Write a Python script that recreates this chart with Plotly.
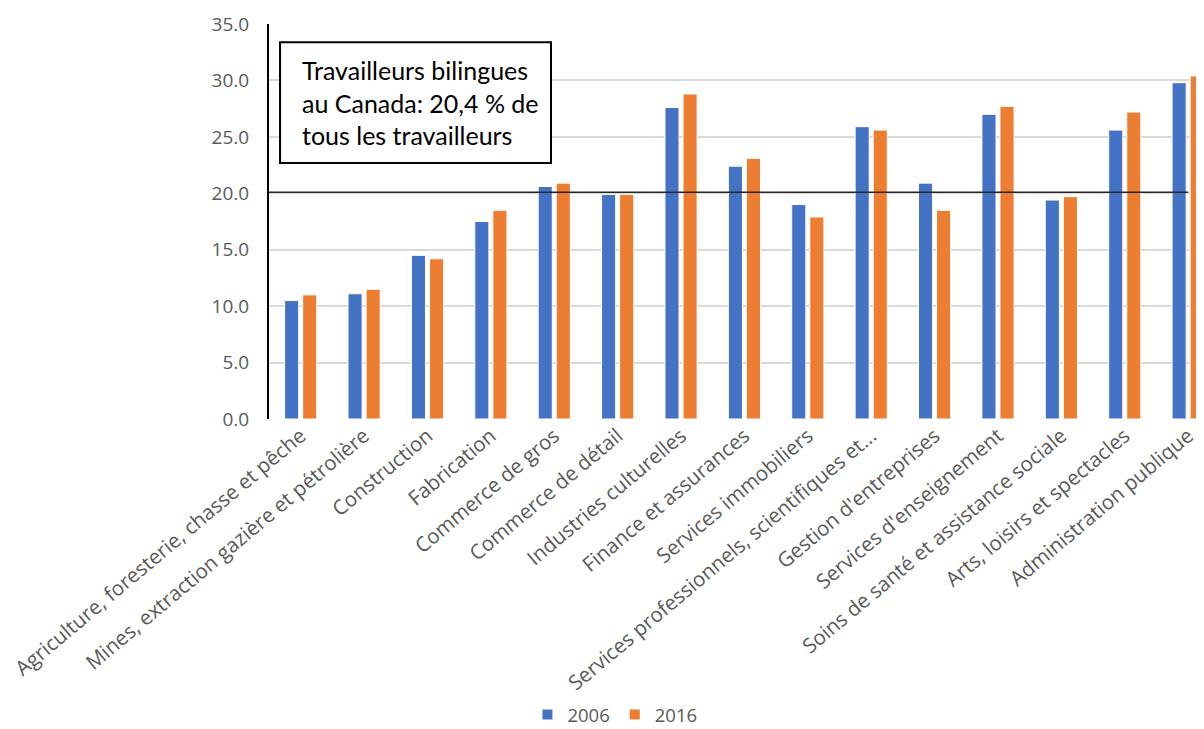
import plotly.graph_objects as go

categories = [
    "Agriculture, foresterie, chasse et pêche",
    "Mines, extraction gazière et pétrolière",
    "Construction",
    "Fabrication",
    "Commerce de gros",
    "Commerce de détail",
    "Industries culturelles",
    "Finance et assurances",
    "Services immobiliers",
    "Services professionnels, scientifiques et...",
    "Gestion d'entreprises",
    "Services d'enseignement",
    "Soins de santé et assistance sociale",
    "Arts, loisirs et spectacles",
    "Administration publique",
]
values_2006 = [10.5, 11.1, 14.5, 17.5, 20.6, 19.9, 27.6, 22.4, 19.0, 25.9, 20.9, 27.0, 19.4, 25.6, 29.8]
values_2016 = [11.0, 11.5, 14.2, 18.5, 20.9, 19.9, 28.8, 23.1, 17.9, 25.6, 18.5, 27.7, 19.7, 27.2, 30.4]
reference_value = 20.1
y_ticks = [0, 5, 10, 15, 20, 25, 30, 35]
annotation_text = "Travailleurs bilingues<br>au Canada: 20,4 % de<br>tous les travailleurs"

BLUE = "#4472C4"
ORANGE = "#ED7D31"
GRAY = "#595959"

fig = go.Figure()
fig.add_trace(go.Bar(name="2006", x=categories, y=values_2006,
                     marker=dict(color=BLUE, line=dict(color="white", width=1))))
fig.add_trace(go.Bar(name="2016", x=categories, y=values_2016,
                     marker=dict(color=ORANGE, line=dict(color="white", width=1))))

fig.add_shape(type="line", xref="x", yref="y", x0=-0.5, x1=len(categories) - 1,
              y0=reference_value, y1=reference_value,
              line=dict(color="#262626", width=1.5), layer="above")

# text box
fig.add_shape(type="rect", xref="paper", yref="paper", x0=0.0118, x1=0.3016,
              y0=0.648, y1=0.954, line=dict(color="black", width=2),
              fillcolor="white", layer="above")
fig.add_annotation(xref="paper", yref="paper", x=0.0332, y=0.80,
                   xanchor="left", yanchor="middle", text=annotation_text,
                   showarrow=False, align="left",
                   font=dict(family="Lato, Carlito, sans-serif", size=25, color="black"))

fig.update_layout(
    width=1196, height=721,
    margin=dict(l=261, r=0, t=16, b=310),
    paper_bgcolor="white", plot_bgcolor="white",
    barmode="group", bargap=0.43, bargroupgap=0.22,
    font=dict(family="Open Sans, sans-serif", color=GRAY),
    showlegend=True,
    legend=dict(orientation="h", x=0.37, xanchor="center", yref="container",
                y=0.0195, yanchor="middle",
                font=dict(size=18.5, color=GRAY), itemsizing="constant"),
    xaxis=dict(range=[-0.5, 14.25], tickangle=-40, tickfont=dict(size=20.5, color=GRAY),
               showline=False, ticks="", showgrid=False, automargin=False),
    yaxis=dict(range=[0, 35], tickvals=y_ticks, tickformat=".1f",
               tickfont=dict(size=19, color=GRAY), showgrid=True,
               gridcolor="#D9D9D9", gridwidth=1.5, showline=True, linecolor="black",
               linewidth=2, zeroline=False, ticks="", ticklabelstandoff=14,
               automargin=False),
)

fig.write_html("out.html")
